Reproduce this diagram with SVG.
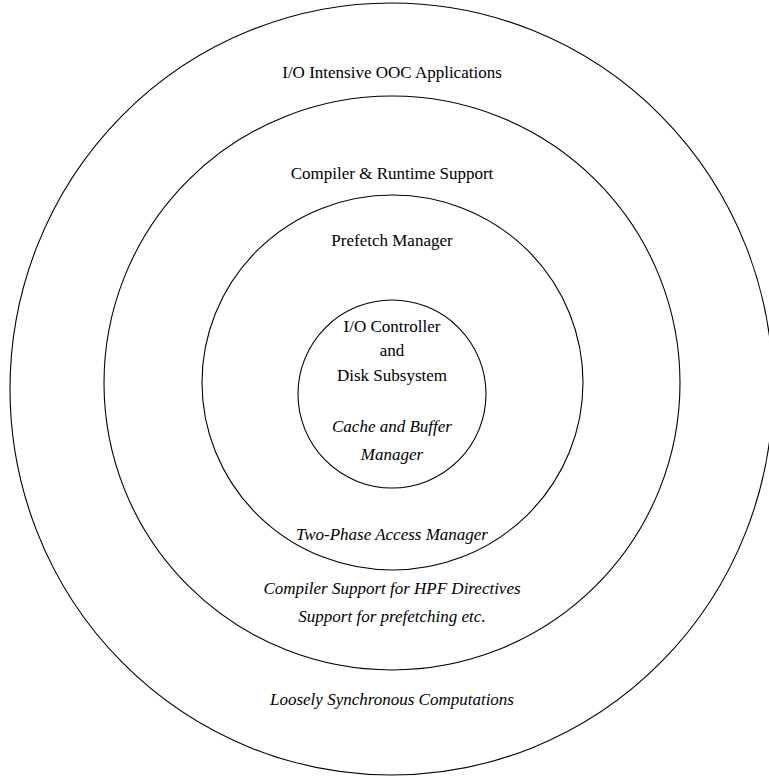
<svg xmlns="http://www.w3.org/2000/svg" width="769" height="778" viewBox="0 0 769 778">
<style>
.ring{fill:none;stroke:#000;stroke-width:1.1}
text{font-family:"Liberation Serif","Times New Roman",serif;font-size:17px;text-anchor:middle;fill:#000}
.it{font-style:italic}
</style>
<rect width="769" height="778" fill="#fff"/>
<g id="ring-applications">
<ellipse class="ring" cx="391.5" cy="389" rx="381.5" ry="386"/>
<text x="392" y="78">I/O Intensive OOC Applications</text>
<text class="it" x="392" y="705">Loosely Synchronous Computations</text>
</g>
<g id="ring-compiler">
<ellipse class="ring" cx="392" cy="383" rx="288" ry="287"/>
<text x="392" y="179">Compiler &amp; Runtime Support</text>
<text class="it" x="392" y="594">Compiler Support for HPF Directives</text>
<text class="it" x="392" y="622">Support for prefetching etc.</text>
</g>
<g id="ring-prefetch">
<ellipse class="ring" cx="392.5" cy="382.5" rx="190.5" ry="187.5"/>
<text x="392" y="246">Prefetch Manager</text>
<text class="it" x="392" y="540">Two-Phase Access Manager</text>
</g>
<g id="core-io">
<circle class="ring" cx="392" cy="394" r="94"/>
<text x="392" y="332">I/O Controller</text>
<text x="392" y="356">and</text>
<text x="392" y="381">Disk Subsystem</text>
<text class="it" x="392" y="432">Cache and Buffer</text>
<text class="it" x="392" y="460">Manager</text>
</g>
<g id="connectors"></g>
</svg>
